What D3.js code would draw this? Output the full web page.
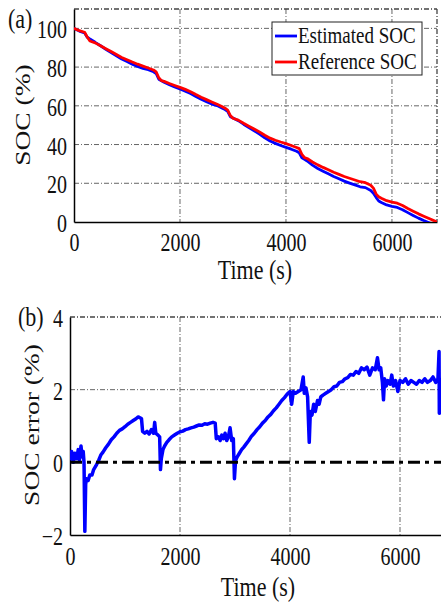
<!DOCTYPE html>
<html>
<head>
<meta charset="utf-8">
<script src="https://cdn.jsdelivr.net/npm/d3@7"></script>
<style>
  body { margin: 0; background: #fff; }
  svg { display: block; }
  text { font-family: "Liberation Serif", "Times New Roman", serif; fill: #111; }
</style>
</head>
<body>
<svg id="chart" width="441" height="604"></svg>
<script>
// ---------------- DATA ----------------
const socTime = [0,100,200,250,300,400,500,600,700,800,900,1000,1100,1200,1300,1400,1500,1550,1600,1650,1700,1800,1900,2000,2100,2200,2300,2400,2500,2600,2700,2800,2850,2900,2950,3000,3100,3200,3300,3400,3500,3600,3700,3800,3900,4000,4100,4200,4250,4300,4350,4400,4500,4600,4700,4800,4900,5000,5100,5200,5300,5400,5500,5600,5650,5700,5750,5800,5900,6000,6100,6200,6300,6400,6500,6600,6700,6800,6850];
const referenceSOC = [100,98.8,98,95.5,93.5,92.5,91,89.5,88,86.5,85,83.8,82.6,81.5,80.5,79.5,78.5,77.5,74.5,73,72.6,71.5,70.5,69.5,68.5,67.3,65.8,64.4,63.2,62,60.8,59.5,58.8,57.8,55,53.6,52.6,51,49.5,48,46.5,44.8,43.3,42.2,41.3,40.5,39.5,38.5,37.9,35,33.2,32.8,31,29.5,28.2,27,25.7,24.6,23.5,22.6,21.7,20.8,20.3,19,17.5,14.5,13,12.3,11,10.3,9.7,8.5,7,5.6,4.2,3,1.8,0.6,0];
const estimatedSOC = [99.9,98.6,97.6,95.4,94.5,92.8,91,89.2,87.5,85.8,84.15,82.85,81.5,80.3,79.3,78.65,77.6,76.7,73.75,72.9,72.2,70.9,69.75,68.65,67.6,66.35,64.8,63.35,62.15,60.9,60.15,58.75,58.1,57.1,54.4,53.7,52.35,50.5,48.75,47.1,45.4,43.5,41.85,40.6,39.5,38.55,37.6,36.5,35.7,33.2,32.4,31.5,29.35,27.65,26.25,24.9,23.5,22.3,21.1,20.1,19.15,18.2,17.75,16.3,14.9,12.75,10.85,10.1,8.8,8.1,7.5,6.35,4.85,3.4,2,0.75,-0.4,-1.6,-2.2];

const errTime = [0,30,60,90,120,150,170,200,220,240,255,270,285,300,330,360,400,430,470,520,560,600,650,700,750,800,850,900,950,1000,1050,1100,1150,1200,1240,1280,1300,1320,1360,1400,1440,1480,1520,1540,1560,1600,1630,1645,1660,1690,1720,1760,1800,1850,1900,1950,2000,2050,2100,2150,2200,2250,2300,2350,2400,2450,2500,2550,2600,2640,2660,2700,2730,2760,2790,2820,2850,2880,2910,2940,2970,2990,3010,3040,3080,3120,3160,3200,3250,3300,3350,3400,3450,3500,3550,3600,3650,3700,3750,3800,3850,3900,3950,4000,4030,4060,4100,4150,4200,4240,4260,4290,4320,4350,4370,4400,4430,4460,4500,4530,4560,4600,4650,4700,4750,4800,4850,4900,4950,5000,5050,5100,5150,5200,5250,5300,5350,5400,5450,5500,5550,5590,5620,5650,5680,5700,5720,5750,5780,5820,5850,5880,5920,5960,6000,6050,6100,6150,6200,6250,6300,6350,6400,6450,6500,6550,6600,6650,6690,6710,6715,6720,6800];
const socError = [0.05,0.3,0.0,0.25,0.1,0.35,0.05,0.45,0.15,0.3,0.0,-1.9,-0.6,-0.45,-0.5,-0.35,-0.35,-0.2,-0.1,0.05,0.2,0.28,0.4,0.5,0.62,0.7,0.8,0.88,0.92,0.98,1.05,1.1,1.15,1.2,1.25,1.22,1.2,0.85,0.8,0.85,0.78,0.9,0.8,1.1,0.8,0.75,0.7,-0.2,0.1,0.35,0.45,0.55,0.62,0.7,0.75,0.8,0.84,0.86,0.9,0.92,0.95,0.97,1.0,1.03,1.02,1.06,1.05,1.08,1.1,1.08,0.65,0.7,0.6,0.75,0.65,0.8,0.6,0.7,0.95,0.6,0.65,-0.45,0.05,0.15,0.25,0.35,0.42,0.5,0.6,0.72,0.8,0.9,0.98,1.08,1.15,1.25,1.32,1.42,1.5,1.6,1.7,1.78,1.88,1.95,1.6,1.95,1.9,1.95,2.0,2.35,1.9,2.05,1.8,0.55,1.4,1.3,1.6,1.4,1.7,1.6,1.8,1.85,1.9,1.95,2.0,2.08,2.1,2.2,2.22,2.3,2.33,2.42,2.4,2.5,2.45,2.6,2.55,2.62,2.4,2.6,2.55,2.88,2.55,2.6,2.2,1.72,2.3,2.1,2.25,2.15,2.4,2.1,2.25,1.95,2.25,2.2,2.3,2.15,2.25,2.2,2.15,2.25,2.2,2.3,2.2,2.25,2.35,2.2,2.3,3.05,1.35,2.3,2.2];

const zeroRef = [0, 6800];
const timeTicks = [0, 2000, 4000, 6000];
const socTicks = [0, 20, 40, 60, 80, 100];
const errTicks = [-2, 0, 2, 4];
const legendLabels = ["Estimated SOC", "Reference SOC"];
const colors = { est: "#0000ff", ref: "#ff0000" };

// ---------------- LAYOUT ----------------
const svg = d3.select("#chart");
const SY = 1.25; // vertical stretch of the original figure's text

function gridStyle(sel) {
  sel.attr("stroke", "#666").attr("stroke-width", 1).attr("stroke-dasharray", "5,2,1,2").attr("fill", "none");
}

function panel(opts) {
  const { x0, x1, y0, y1, xDomain, yDomain, yTicks, xGrid, yGrid, id } = opts;
  const x = d3.scaleLinear().domain(xDomain).range([x0, x1]);
  const y = d3.scaleLinear().domain(yDomain).range([y1, y0]);
  const g = svg.append("g");

  g.append("clipPath").attr("id", id).append("rect")
    .attr("x", x0).attr("y", y0).attr("width", x1 - x0).attr("height", y1 - y0);

  g.selectAll(".vg").data(xGrid).enter().append("line")
    .attr("x1", d => x(d)).attr("x2", d => x(d)).attr("y1", y0).attr("y2", y1).call(gridStyle);
  g.selectAll(".hg").data(yGrid).enter().append("line")
    .attr("x1", x0).attr("x2", x1).attr("y1", d => y(d)).attr("y2", d => y(d)).call(gridStyle);
  g.append("line").attr("x1", x0).attr("x2", x1).attr("y1", y0).attr("y2", y0)
    .attr("stroke", "#444").attr("stroke-width", 1.3).attr("stroke-dasharray", "5,2,1,2");
  g.append("line").attr("x1", x1).attr("x2", x1).attr("y1", y0).attr("y2", y1)
    .attr("stroke", "#444").attr("stroke-width", 1.3).attr("stroke-dasharray", "5,2,1,2");

  const ax = g.append("g").attr("transform", `translate(0,${y1})`)
    .call(d3.axisBottom(x).tickValues(timeTicks).tickSize(0).tickFormat(d3.format("d")));
  ax.select(".domain").attr("stroke", "#000").attr("stroke-width", 1.5);
  ax.selectAll("text").attr("y", null).attr("dy", null)
    .attr("transform", `translate(0,${opts.xLabelOff}) scale(1,${SY})`)
    .attr("font-size", 20).attr("fill", "#111")
    .attr("font-family", '"Liberation Serif", serif');

  const ay = g.append("g").attr("transform", `translate(${x0},0)`)
    .call(d3.axisLeft(y).tickValues(yTicks).tickSize(0).tickPadding(7).tickFormat(d3.format("d")));
  ay.select(".domain").attr("stroke", "#000").attr("stroke-width", 1.5);
  ay.selectAll("text").attr("dy", "0.38em")
    .attr("transform", `scale(1,${SY})`)
    .attr("font-size", 20).attr("fill", "#111")
    .attr("font-family", '"Liberation Serif", serif');

  const plot = g.append("g").attr("clip-path", `url(#${id})`);
  return { x, y, g, plot };
}

function hText(txt, x, y, size, anchor) {
  svg.append("text").attr("transform", `translate(${x},${y}) scale(1,${SY})`)
    .attr("text-anchor", anchor || "middle").attr("font-size", size).text(txt);
}
function vText(txt, x, y, size) {
  svg.append("text").attr("transform", `translate(${x},${y}) rotate(-90) scale(${SY},1)`)
    .attr("text-anchor", "middle").attr("font-size", size).text(txt);
}

// ---------------- PANEL (a) ----------------
const A = panel({ id: "clipA", x0: 74, x1: 437, y0: 9, y1: 222,
  xDomain: [0, 6850], yDomain: [0, 110], yTicks: socTicks,
  xGrid: [2000, 4000, 6000], yGrid: [20, 40, 60, 80, 100], xLabelOff: 29 });

const lineA = (vals) => d3.line().x((d, i) => A.x(socTime[i])).y(d => A.y(d))(vals);
A.plot.append("path").attr("d", lineA(estimatedSOC)).attr("fill", "none")
  .attr("stroke", colors.est).attr("stroke-width", 2.8).attr("stroke-linejoin", "round");
A.plot.append("path").attr("d", lineA(referenceSOC)).attr("fill", "none")
  .attr("stroke", colors.ref).attr("stroke-width", 2.8).attr("stroke-linejoin", "round");

const leg = svg.append("g");
leg.append("rect").attr("x", 272).attr("y", 22).attr("width", 150).attr("height", 53)
  .attr("fill", "#fff").attr("stroke", "#222").attr("stroke-width", 1);
legendLabels.forEach((lab, i) => {
  const cy = 36 + i * 26;
  leg.append("line").attr("x1", 275).attr("x2", 297).attr("y1", cy).attr("y2", cy)
    .attr("stroke", i === 0 ? colors.est : colors.ref).attr("stroke-width", 2.8);
  leg.append("text").attr("transform", `translate(298,${cy + 7}) scale(1,${SY})`)
    .attr("font-size", 19).text(lab);
});

hText("Time (s)", 255, 279, 22);
vText("SOC (%)", 30, 115, 22);
hText("(a)", 8, 28, 22, "start");

// ---------------- PANEL (b) ----------------
const B = panel({ id: "clipB", x0: 70, x1: 455, y0: 317, y1: 535,
  xDomain: [0, 7000], yDomain: [-2, 4], yTicks: errTicks,
  xGrid: [2000, 4000, 6000], yGrid: [2], xLabelOff: 30 });

B.plot.append("path")
  .attr("d", d3.line().x((d, i) => B.x(errTime[i])).y(d => B.y(d))(socError))
  .attr("fill", "none").attr("stroke", colors.est).attr("stroke-width", 3.5)
  .attr("stroke-linejoin", "round");
B.plot.append("line")
  .attr("x1", B.x(zeroRef[0])).attr("x2", B.x(zeroRef[1]))
  .attr("y1", B.y(0)).attr("y2", B.y(0))
  .attr("stroke", "#000").attr("stroke-width", 3).attr("stroke-dasharray", "12,5,4,5");

hText("Time (s)", 258, 596, 22);
vText("SOC error (%)", 39, 425, 22);
hText("(b)", 18, 326, 22, "start");
</script>
</body>
</html>
